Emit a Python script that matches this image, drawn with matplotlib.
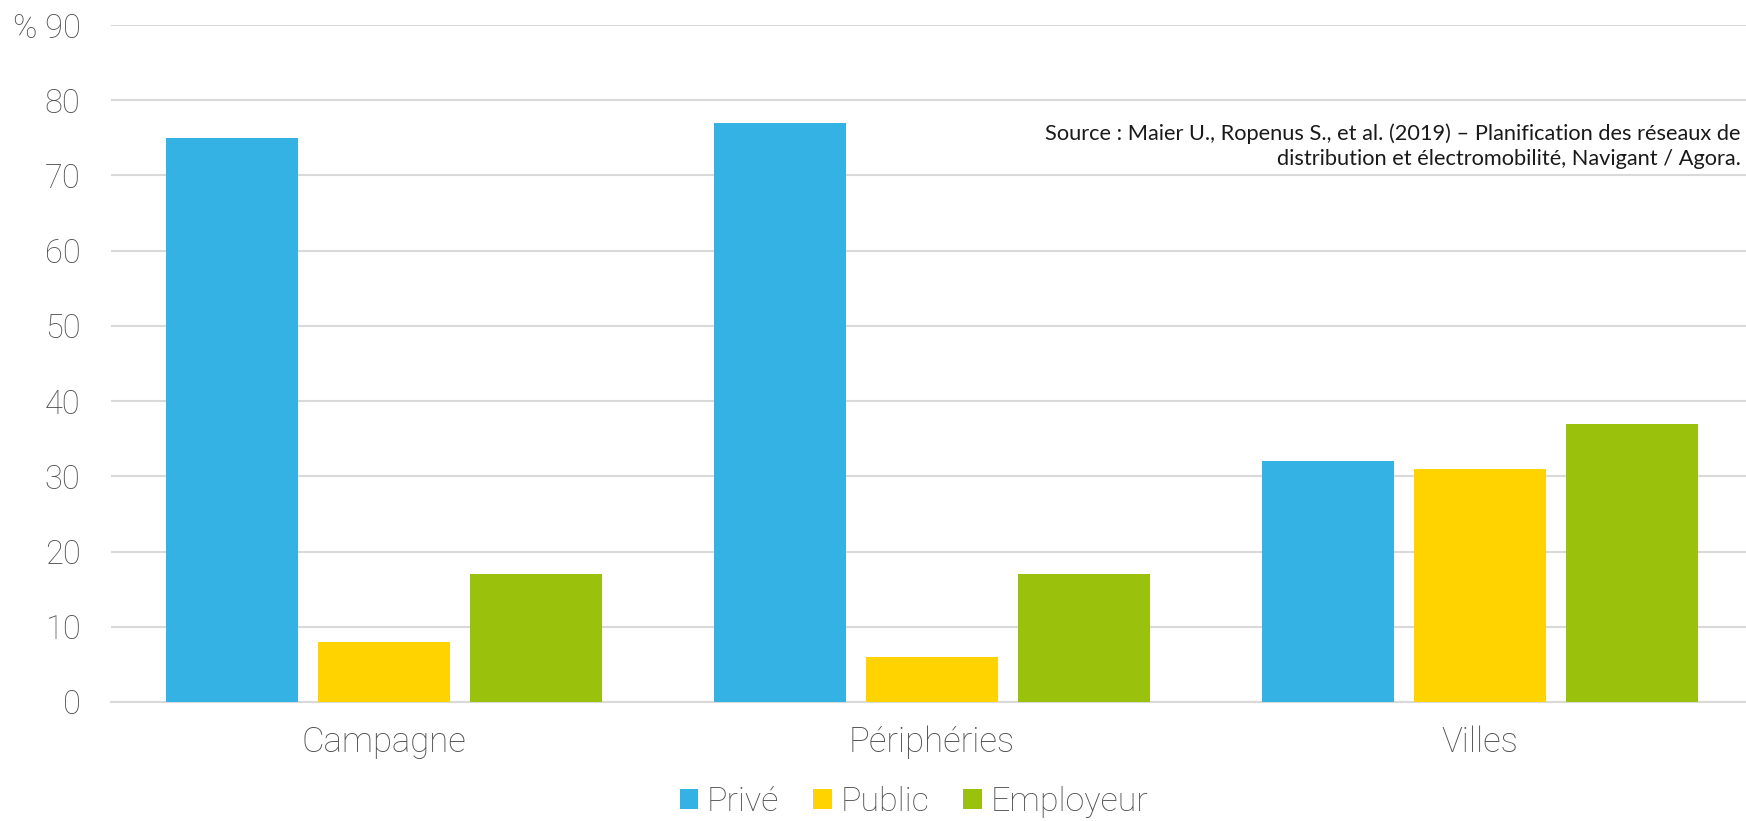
import matplotlib.pyplot as plt
import numpy as np

categories = ["Campagne", "Périphéries", "Villes"]
series = ["Privé", "Public", "Employeur"]
prive = [75, 77, 32]
public = [8, 6, 31]
employeur = [17, 17, 37]
yticks = [0, 10, 20, 30, 40, 50, 60, 70, 80, 90]
ytick_labels = ["0", "10", "20", "30", "40", "50", "60", "70", "80", "% 90"]

colors = ["#35B2E4", "#FFD300", "#9AC10C"]
text_col = "#4F4F4F"
grid_col = "#D9D9D9"
light_font = ["Roboto", "DejaVu Sans"]

plt.rcParams["font.family"] = ["Lato", "DejaVu Sans"]

fig = plt.figure(figsize=(17.46, 8.21), dpi=100)
ax = fig.add_axes([111 / 1746, 1 - 702 / 821, 1 - 111 / 1746, (702 - 25) / 821])

x = np.arange(len(categories))
pitch = 0.277
width = 0.241
for i, (name, vals) in enumerate(zip(series, [prive, public, employeur])):
    ax.bar(x + (i - 1) * pitch, vals, width, color=colors[i], label=name, zorder=3)

ax.set_ylim(0, 90)
ax.set_xlim(-0.498, 2.485)
ax.set_yticks(yticks)
ax.set_yticklabels(ytick_labels, fontsize=23.5, color=text_col, family=light_font, fontweight="light")
ax.set_xticks(x)
ax.set_xticklabels(categories, fontsize=25, color=text_col, family=light_font, fontweight="light")
ax.tick_params(axis="y", length=0, pad=22)
ax.tick_params(axis="x", length=0, pad=17)
ax.grid(axis="y", color=grid_col, linewidth=1.5, zorder=0)
for s in ["top", "right", "left"]:
    ax.spines[s].set_visible(False)
ax.spines["bottom"].set_color(grid_col)
ax.spines["bottom"].set_linewidth(1.5)

fig.text(0.997, 1 - 146 / 821,
         "Source : Maier U., Ropenus S., et al. (2019) – Planification des réseaux de\n"
         "distribution et électromobilité, Navigant / Agora.",
         ha="right", va="center", fontsize=15.7, color="#1A1A1A", linespacing=1.32)

fig.legend(loc="center", bbox_to_anchor=(914 / 1746, 1 - 802 / 821), ncol=3, frameon=False,
           prop={"size": 24.5, "family": light_font, "weight": "light"}, labelcolor=text_col,
           handlelength=0.55, handleheight=0.55, handletextpad=0.25, columnspacing=1.0)

fig.savefig("out.png", dpi=100)
